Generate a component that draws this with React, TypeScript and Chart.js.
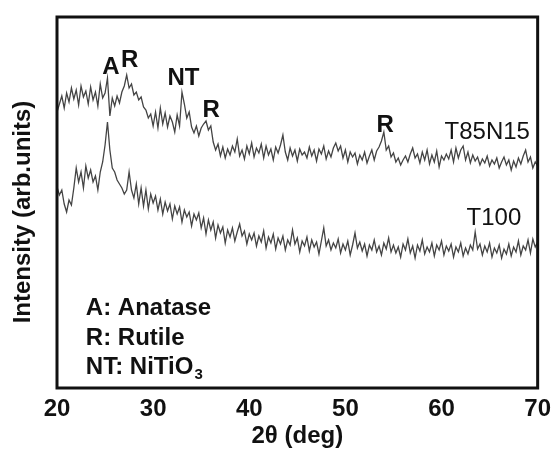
import React, { useEffect, useRef } from "react";
import { Chart, registerables } from "chart.js";

Chart.register(...registerables);

// 2θ sampling grid (degrees)
const thetaStart = 20;
const thetaStep = 0.25;

// T85N15 intensity (arb. units)
const t85n15 = [
  288, 296, 304, 292, 307, 298, 312, 301, 310, 295,
  314, 303, 309, 296, 313, 300, 308, 294, 316, 302,
  307, 322, 284, 302, 294, 304, 297, 308, 314, 325,
  312, 316, 305, 308, 300, 303, 293, 290, 282, 286,
  274, 288, 272, 292, 276, 287, 273, 284, 278, 268,
  285, 274, 308, 296, 282, 288, 273, 267, 274, 264,
  272, 276, 279, 270, 274, 258, 250, 256, 244, 253,
  242, 251, 245, 254, 248, 261, 244, 250, 241, 254,
  246, 257, 243, 252, 247, 256, 242, 254, 245, 251,
  240, 253, 247, 255, 265, 248, 240, 252, 244, 250,
  239, 251, 245, 248, 242, 253, 244, 250, 239, 251,
  246, 254, 241, 249, 243, 252, 257, 249, 254, 242,
  250, 238, 248, 243, 247, 236, 245, 240, 248, 237,
  244, 250, 240, 249, 253, 259, 268, 250, 254, 243,
  247, 238, 242, 235, 240, 244, 238, 246, 252, 242,
  246, 237, 248, 240, 250, 236, 245, 238, 249, 233,
  244, 240, 246, 241, 250, 238, 252, 242, 250, 254,
  240, 248, 237, 245, 239, 243, 235, 241, 237, 244,
  234, 240, 236, 242, 232, 238, 243, 235, 240, 230,
  239, 233, 242, 236, 244, 250, 238, 243, 232, 238,
  234,
];

// T100 intensity (arb. units)
const t100 = [
  213, 205, 210, 196, 188, 200, 195, 212, 232, 218,
  228, 212, 234, 222, 230, 218, 224, 210, 228, 238,
  255, 278, 250, 232, 228, 220, 216, 212, 206, 210,
  228, 210, 202, 216, 196, 212, 194, 210, 191, 206,
  197, 204, 190, 201, 186, 198, 189, 196, 181, 194,
  186, 193, 178, 190, 183, 188, 174, 186, 180, 187,
  172, 182, 166, 180, 170, 178, 162, 175, 167, 173,
  157, 170, 163, 172, 159, 168, 176, 164, 169, 156,
  166, 160, 167, 154, 164, 158, 169, 152, 163, 157,
  166, 151, 162, 156, 164, 150, 160, 155, 170, 156,
  162, 148, 159, 154, 163, 149, 160, 153, 158, 146,
  159, 172, 154, 160, 150, 157, 152, 161, 147, 156,
  150, 159, 145, 155, 167, 152, 158, 149, 156, 144,
  155, 150, 160, 148, 154, 145, 157, 151, 162, 148,
  155, 147, 153, 143, 156, 150, 161, 147, 154, 142,
  155, 149, 160, 146, 153, 148, 157, 144, 155, 150,
  159, 145, 154, 149, 156, 143, 153, 148, 157, 144,
  152, 146, 155, 150, 168, 151, 156, 145, 154, 148,
  157, 143, 152, 147, 155, 142, 151, 146, 156, 144,
  153, 148, 159, 145, 154, 150, 160, 147, 161, 153,
  158,
];

const xTicks = [20, 30, 40, 50, 60, 70];

// Peak labels: [text, 2θ, intensity]
const peakLabelText = ["A", "R", "NT", "R", "R"];
const peakLabelTheta = [25.6, 27.55, 33.15, 36.05, 54.15];
const peakLabelY = [333, 340, 322, 290, 275];

// Series names (right-aligned at given 2θ)
const seriesNames = ["T85N15", "T100"];
const seriesNameTheta = [69.2, 68.3];
const seriesNameY = [268, 182];

// Phase key
const keyLines = ["A: Anatase", "R: Rutile", "NT: NiTiO"];
const keyTheta = 23.0;
const keyY = [92, 62, 33];

const FONT = "'Liberation Sans', Arial, Helvetica, sans-serif";
const FS = 24;

export default function App() {
  const ref = useRef<HTMLCanvasElement | null>(null);

  useEffect(() => {
    const canvas = ref.current;
    if (!canvas) return;
    const toPts = (arr: number[]) =>
      arr.map((v, i) => ({ x: thetaStart + i * thetaStep, y: v }));

    const overlay = {
      id: "overlay",
      afterDraw(chart: any) {
        const { ctx, chartArea, scales } = chart;
        const xs = scales.x;
        const ys = scales.y;
        ctx.save();
        // frame
        ctx.strokeStyle = "#111";
        ctx.lineWidth = 3;
        ctx.strokeRect(
          chartArea.left,
          chartArea.top,
          chartArea.right - chartArea.left,
          chartArea.bottom - chartArea.top
        );
        ctx.fillStyle = "#111";
        ctx.textBaseline = "middle";
        // peak labels
        ctx.font = `bold ${FS}px ${FONT}`;
        ctx.textAlign = "center";
        peakLabelText.forEach((t, i) => {
          ctx.fillText(
            t,
            xs.getPixelForValue(peakLabelTheta[i]),
            ys.getPixelForValue(peakLabelY[i])
          );
        });
        // series names
        ctx.font = `${FS}px ${FONT}`;
        ctx.textAlign = "right";
        seriesNames.forEach((t, i) => {
          ctx.fillText(
            t,
            xs.getPixelForValue(seriesNameTheta[i]),
            ys.getPixelForValue(seriesNameY[i])
          );
        });
        // key
        ctx.font = `bold ${FS}px ${FONT}`;
        ctx.textAlign = "left";
        const kx = xs.getPixelForValue(keyTheta);
        keyLines.forEach((t, i) => {
          const ky = ys.getPixelForValue(keyY[i]);
          ctx.fillText(t, kx, ky);
          if (i === keyLines.length - 1) {
            const w = ctx.measureText(t).width;
            ctx.font = `bold 15px ${FONT}`;
            ctx.fillText("3", kx + w + 1, ky + 8);
            ctx.font = `bold ${FS}px ${FONT}`;
          }
        });
        // y title
        ctx.translate(23, 212);
        ctx.rotate(-Math.PI / 2);
        ctx.textAlign = "center";
        ctx.font = `bold ${FS}px ${FONT}`;
        ctx.fillText("Intensity (arb.units)", 0, 0);
        ctx.restore();
      },
    };

    const chart = new Chart(canvas, {
      type: "line",
      data: {
        datasets: [
          {
            label: seriesNames[0],
            data: toPts(t85n15),
            borderColor: "#444",
            borderWidth: 1.3,
            pointRadius: 0,
            tension: 0,
          },
          {
            label: seriesNames[1],
            data: toPts(t100),
            borderColor: "#444",
            borderWidth: 1.3,
            pointRadius: 0,
            tension: 0,
          },
        ],
      },
      options: {
        responsive: false,
        animation: false,
        layout: { padding: { left: 57, top: 17, right: 18, bottom: 0 } },
        plugins: {
          legend: { display: false },
          tooltip: { enabled: false },
        },
        scales: {
          x: {
            type: "linear",
            min: 20,
            max: 70,
            afterBuildTicks: (scale: any) => {
              scale.ticks = xTicks.map((v) => ({ value: v }));
            },
            afterFit: (scale: any) => {
              scale.height = 62;
            },
            grid: { display: false, drawTicks: false },
            border: { display: false },
            ticks: {
              color: "#111",
              padding: 7,
              font: { family: FONT, size: FS, weight: "bold" },
              maxRotation: 0,
            },
            title: {
              display: true,
              text: "2θ (deg)",
              color: "#111",
              padding: { top: 0, bottom: -1 },
              font: { family: FONT, size: FS, weight: "bold" },
            },
          },
          y: {
            display: false,
            min: 12,
            max: 383,
          },
        },
      },
      plugins: [overlay],
    });
    return () => chart.destroy();
  }, []);

  return (
    <div
      style={{
        position: "fixed",
        left: 0,
        top: 0,
        width: 558,
        height: 450,
        background: "#fff",
      }}
    >
      <canvas ref={ref} width={558} height={450} style={{ width: 558, height: 450 }} />
    </div>
  );
}
